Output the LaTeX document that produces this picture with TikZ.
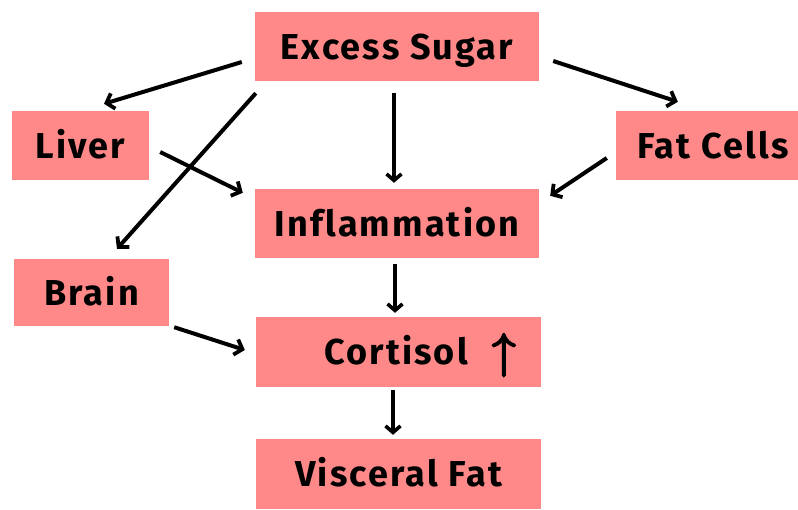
\documentclass[tikz,border=0pt]{standalone}
\usepackage{fontspec}
\setmainfont{Fira Sans}[Ligatures={NoCommon}, LetterSpace=6]
\newfontfamily\lmarrow{Latin Modern Math}[FakeBold=4]
\usetikzlibrary{arrows.meta}
\definecolor{boxpink}{RGB}{255,137,137}
\tikzset{
  box/.style={fill=boxpink, draw=none, inner sep=0pt, minimum height=69pt,
    font=\fontsize{36}{40}\selectfont\bfseries, text height=25pt, text depth=0pt},
  conn/.style={line width=4pt, -{Straight Barb[length=7pt,width=16pt,line width=3.8pt]}},
  vconn/.style={line width=3.6pt, -{Straight Barb[length=6.5pt,width=15pt,line width=3.6pt]}}
}
\begin{document}
\begin{tikzpicture}[x=1pt,y=-1pt]
\useasboundingbox (0,0) rectangle (798,509);
\fill[white] (0,0) rectangle (798,509);
\begin{scope}
\clip (0,0) rectangle (798,509);
\node[box, minimum width=284pt] (sugar) at (397,46.5) {Excess Sugar};
\node[box, minimum width=137pt] (liver) at (80.5,145.5) {Liver};
\node[box, minimum width=194pt] (fat) at (713,145.5) {Fat Cells};
\node[box, minimum width=284pt] (infl) at (397,223.5) {Inflammation};
\node[box, minimum width=155pt, minimum height=67pt] (brain) at (91.5,292.5) {Brain};
\node[box, minimum width=285pt, minimum height=70pt] (cort) at (398.5,352) {\hspace*{43pt}Cortisol\hspace{24pt}\raisebox{-2pt}{\lmarrow\fontsize{48}{50}\selectfont ↑}};
\node[box, minimum width=285pt, minimum height=70pt] (visc) at (398.5,474) {Visceral Fat};
\end{scope}
\draw[conn] ([shift={(-13,15.5)}]sugar.west) -- ([shift={(23.5,-7)}]liver.north);
\draw[conn] ([shift={(1,12)}]sugar.south west) -- ([shift={(25.5,-10)}]brain.north);
\draw[conn] ([shift={(11,6.5)}]liver.east) -- ([shift={(-12,4)}]infl.north west);
\draw[vconn] ([shift={(-3,12)}]sugar.south) -- ([shift={(-3,-6)}]infl.north);
\draw[conn] ([shift={(14,14.5)}]sugar.east) -- ([shift={(62,-9)}]fat.north west);
\draw[conn] ([shift={(-9,12.5)}]fat.west) -- ([shift={(11,7)}]infl.north east);
\draw[vconn] ([shift={(-2,6)}]infl.south) -- ([shift={(-3.5,-4)}]cort.north);
\draw[vconn] ([shift={(-5.5,3)}]cort.south) -- ([shift={(-5.5,-4)}]visc.north);
\draw[conn] ([shift={(5,1)}]brain.south east) -- ([shift={(-11,-2)}]cort.west);
\end{tikzpicture}
\end{document}
